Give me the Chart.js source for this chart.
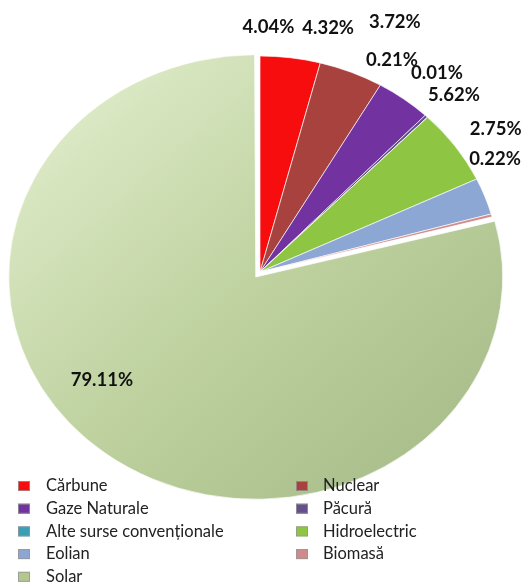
<!DOCTYPE html>
<html>
<head>
<meta charset="utf-8">
<script src="https://cdn.jsdelivr.net/npm/chart.js@4"></script>
<style>
  body { margin: 0; background: #fff; }
  #wrap { width: 526px; height: 583px; }
</style>
</head>
<body>
<div id="wrap"><canvas id="pieChart" width="526" height="583"></canvas></div>
<script>
const sources = ['Cărbune', 'Nuclear', 'Gaze Naturale', 'Păcură', 'Alte surse convenționale',
    'Hidroelectric', 'Eolian', 'Biomasă', 'Solar'];
const shares = [4.04, 4.32, 3.72, 0.21, 0.01, 5.62, 2.75, 0.22, 79.11];
const colors = ['#f70d0d', '#a8423f', '#7232a0', '#64508c', '#3a9fb5',
    '#8ec644', '#8ca7d3', '#cf8a89', '#b3c78f'];

// label placement around each slice: angle shift (deg) and radius factor
const labelShift = [-5.5, -8.2, -10.9, -14.6, -5.6, -9.8, -13.5, -12.9, 15.2];
const labelRadius = [1.135, 1.164, 1.287, 1.125, 1.18, 1.151, 1.185, 1.11, 0.827];
const squash = 0.9;
const pieRadius = 240;

const tiltPlugin = {
    id: 'tilt',
    beforeDatasetsDraw(chart) {
        const arc = chart.getDatasetMeta(0).data[0];
        const ctx = chart.ctx;
        ctx.save();
        ctx.translate(arc.x, arc.y);
        ctx.scale(1, squash);
        ctx.translate(-arc.x, -arc.y);
    },
    afterDatasetsDraw(chart) {
        chart.ctx.restore();
    }
};

const labelPlugin = {
    id: 'pctLabels',
    afterDraw(chart) {
        const ctx = chart.ctx;
        const arcs = chart.getDatasetMeta(0).data;
        ctx.save();
        ctx.font = 'bold 18.5px Lato, "Noto Sans", sans-serif';
        ctx.fillStyle = '#111';
        ctx.textAlign = 'center';
        ctx.textBaseline = 'middle';
        arcs.forEach(function(arc, i) {
            const a = (arc.startAngle + arc.endAngle) / 2 + labelShift[i] * Math.PI / 180;
            const r = arc.outerRadius * labelRadius[i];
            const x = arc.x + r * Math.cos(a);
            const y = arc.y + r * squash * Math.sin(a);
            ctx.fillText(shares[i].toFixed(2) + '%', x, y);
        });
        ctx.restore();
    }
};

const legendPlugin = {
    id: 'twoColLegend',
    afterDraw(chart) {
        const ctx = chart.ctx;
        ctx.save();
        ctx.font = '16.5px Lato, "Noto Sans", sans-serif';
        ctx.textBaseline = 'middle';
        ctx.textAlign = 'left';
        chart.data.labels.forEach(function(lbl, i) {
            const col = i % 2;
            const row = Math.floor(i / 2);
            const bx = col === 0 ? 18 : 296;
            const tx = col === 0 ? 46 : 323;
            const y = 486 + row * 22.7;
            ctx.fillStyle = colors[i];
            ctx.fillRect(bx, y - 5, 12, 10);
            ctx.strokeStyle = 'rgba(150,150,150,0.8)';
            ctx.lineWidth = 1;
            ctx.strokeRect(bx + 0.5, y - 4.5, 11, 9);
            ctx.fillStyle = '#222';
            ctx.fillText(lbl, tx, y);
        });
        ctx.restore();
    }
};

function sliceColor(context) {
    const i = context.dataIndex;
    if (i !== 8) return colors[i];
    const g = context.chart.ctx.createLinearGradient(40, 60, 470, 500);
    g.addColorStop(0, '#e1edcc');
    g.addColorStop(0.5, '#bfd2a0');
    g.addColorStop(1, '#a5bb88');
    return g;
}

const ctx = document.getElementById('pieChart').getContext('2d');
new Chart(ctx, {
    type: 'pie',
    data: {
        labels: sources,
        datasets: [{
            data: shares,
            backgroundColor: sliceColor,
            borderColor: 'rgba(255,255,255,0.7)',
            borderWidth: 1,
            offset: [0, 0, 0, 0, 0, 0, 0, 0, 28]
        }]
    },
    options: {
        responsive: false,
        animation: false,
        events: [],
        radius: pieRadius,
        layout: { padding: { left: 0, right: 6, top: 0, bottom: 39 } },
        plugins: {
            legend: { display: false },
            tooltip: { enabled: false }
        }
    },
    plugins: [tiltPlugin, labelPlugin, legendPlugin]
});
</script>
</body>
</html>
